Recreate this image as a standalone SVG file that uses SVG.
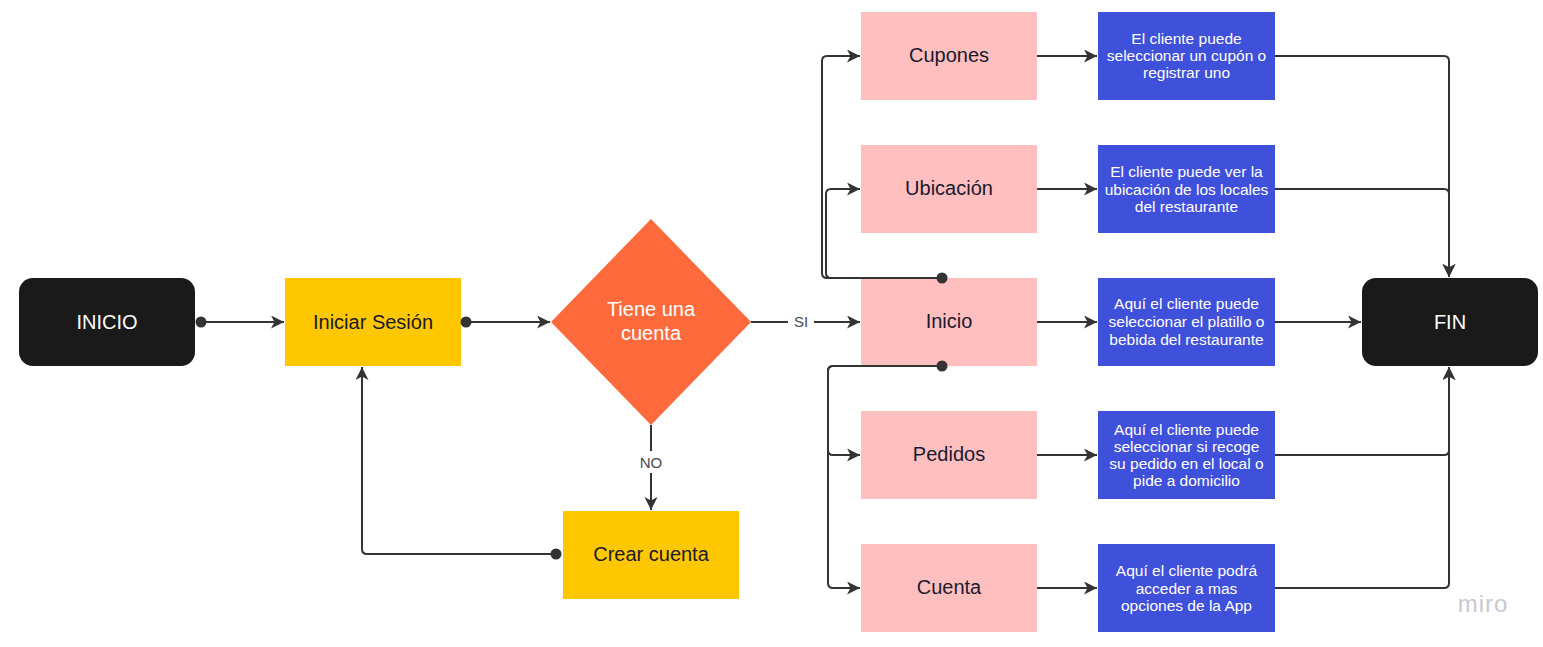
<svg xmlns="http://www.w3.org/2000/svg" width="1543" height="647" viewBox="0 0 1543 647">
  <defs>
    <marker id="arr" markerUnits="userSpaceOnUse" markerWidth="16" markerHeight="16" refX="13" refY="6.5" orient="auto">
      <path d="M0,0 L13,6.5 L0,13 L3.5,6.5 z" fill="#333333"/>
    </marker>
    <style>
      .term { fill: #1a1a1a; }
      .yel { fill: #ffc700; }
      .pink { fill: #ffbfbf; }
      .blue { fill: #3f50da; }
      .dia { fill: #ff6a3d; }
      .tw { font-family: "Liberation Sans", Arial, sans-serif; font-size: 20px; fill: #ffffff; text-anchor: middle; }
      .td { font-family: "Liberation Sans", Arial, sans-serif; font-size: 20px; fill: #1a1a2e; text-anchor: middle; }
      .tb { font-family: "Liberation Sans", Arial, sans-serif; font-size: 15.5px; fill: #ffffff; text-anchor: middle; }
      .lbl { font-family: "Liberation Sans", Arial, sans-serif; font-size: 15px; fill: #4a4a4a; text-anchor: middle; }
      .ln { fill: none; stroke: #333333; stroke-width: 2; }
      .dot { fill: #333333; }
    </style>
  </defs>
  <rect width="1543" height="647" fill="#ffffff"/>

  <g id="inicio">
    <rect class="term" x="19" y="278" width="176" height="88" rx="14"/>
    <text class="tw" x="107" y="329">INICIO</text>
  </g>
  <g id="iniciar-sesion">
    <rect class="yel" x="285" y="278" width="176" height="88"/>
    <text class="td" x="373" y="329">Iniciar Sesión</text>
  </g>
  <g id="tiene-cuenta">
    <polygon class="dia" points="651,219 751,322 651,425 551,322"/>
    <text class="tw" x="651" y="316">Tiene una</text>
    <text class="tw" x="651" y="340">cuenta</text>
  </g>
  <g id="crear-cuenta">
    <rect class="yel" x="563" y="511" width="176" height="88"/>
    <text class="td" x="651" y="561">Crear cuenta</text>
  </g>

  <g id="cupones">
    <rect class="pink" x="861" y="12" width="176" height="88"/>
    <text class="td" x="949" y="62">Cupones</text>
  </g>
  <g id="ubicacion">
    <rect class="pink" x="861" y="145" width="176" height="88"/>
    <text class="td" x="949" y="195">Ubicación</text>
  </g>
  <g id="inicio-menu">
    <rect class="pink" x="861" y="278" width="176" height="88"/>
    <text class="td" x="949" y="328">Inicio</text>
  </g>
  <g id="pedidos">
    <rect class="pink" x="861" y="411" width="176" height="88"/>
    <text class="td" x="949" y="461">Pedidos</text>
  </g>
  <g id="cuenta">
    <rect class="pink" x="861" y="544" width="176" height="88"/>
    <text class="td" x="949" y="594">Cuenta</text>
  </g>

  <g id="desc-cupones">
    <rect class="blue" x="1098" y="12" width="177" height="88"/>
    <text class="tb" x="1186.5" y="44">El cliente puede</text>
    <text class="tb" x="1186.5" y="61">seleccionar un cupón o</text>
    <text class="tb" x="1186.5" y="78">registrar uno</text>
  </g>
  <g id="desc-ubicacion">
    <rect class="blue" x="1098" y="145" width="177" height="88"/>
    <text class="tb" x="1186.5" y="177">El cliente puede ver la</text>
    <text class="tb" x="1186.5" y="194.5">ubicación de los locales</text>
    <text class="tb" x="1186.5" y="212">del restaurante</text>
  </g>
  <g id="desc-inicio">
    <rect class="blue" x="1098" y="278" width="177" height="88"/>
    <text class="tb" x="1186.5" y="309">Aquí el cliente puede</text>
    <text class="tb" x="1186.5" y="327">seleccionar el platillo o</text>
    <text class="tb" x="1186.5" y="344.5">bebida del restaurante</text>
  </g>
  <g id="desc-pedidos">
    <rect class="blue" x="1098" y="411" width="177" height="88"/>
    <text class="tb" x="1186.5" y="434.5">Aquí el cliente puede</text>
    <text class="tb" x="1186.5" y="451.5">seleccionar si recoge</text>
    <text class="tb" x="1186.5" y="468.5">su pedido en el local o</text>
    <text class="tb" x="1186.5" y="485.5">pide a domicilio</text>
  </g>
  <g id="desc-cuenta">
    <rect class="blue" x="1098" y="544" width="177" height="88"/>
    <text class="tb" x="1186.5" y="576">Aquí el cliente podrá</text>
    <text class="tb" x="1186.5" y="593.5">acceder a mas</text>
    <text class="tb" x="1186.5" y="611">opciones de la App</text>
  </g>

  <g id="fin">
    <rect class="term" x="1362" y="278" width="176" height="88" rx="14"/>
    <text class="tw" x="1450" y="329">FIN</text>
  </g>

  <g id="connectors">
    <path class="ln" d="M201,322 H284" marker-end="url(#arr)"/>
    <circle class="dot" cx="201" cy="322" r="5.5"/>
    <path class="ln" d="M466,322 H550" marker-end="url(#arr)"/>
    <circle class="dot" cx="466" cy="322" r="5.5"/>
    <path class="ln" d="M751,322 H788 M814,322 H860" marker-end="url(#arr)"/>
    <text class="lbl" x="801" y="327">SI</text>
    <path class="ln" d="M651,425 V451 M651,473 V510" marker-end="url(#arr)"/>
    <text class="lbl" x="651" y="467.5">NO</text>
    <path class="ln" d="M556,554 H367 Q362,554 362,549 V367" marker-end="url(#arr)"/>
    <circle class="dot" cx="556" cy="554" r="5.5"/>

    <path class="ln" d="M942,278 H827 Q822,278 822,273 V61 Q822,56 827,56 H860" marker-end="url(#arr)"/>
    <path class="ln" d="M942,278 H831 Q826,278 826,273 V194 Q826,189 831,189 H860" marker-end="url(#arr)"/>
    <circle class="dot" cx="942" cy="278" r="5.5"/>
    <path class="ln" d="M942,366 H833 Q828,366 828,371 V450 Q828,455 833,455 H860" marker-end="url(#arr)"/>
    <path class="ln" d="M942,366 H833 Q828,366 828,371 V583 Q828,588 833,588 H860" marker-end="url(#arr)"/>
    <circle class="dot" cx="942" cy="366" r="5.5"/>

    <path class="ln" d="M1037,56 H1097" marker-end="url(#arr)"/>
    <path class="ln" d="M1037,189 H1097" marker-end="url(#arr)"/>
    <path class="ln" d="M1037,322 H1097" marker-end="url(#arr)"/>
    <path class="ln" d="M1037,455 H1097" marker-end="url(#arr)"/>
    <path class="ln" d="M1037,588 H1097" marker-end="url(#arr)"/>

    <path class="ln" d="M1275,56 H1444 Q1449,56 1449,61 V277" marker-end="url(#arr)"/>
    <path class="ln" d="M1275,189 H1444 Q1449,189 1449,194 V277" marker-end="url(#arr)"/>
    <path class="ln" d="M1275,322 H1361" marker-end="url(#arr)"/>
    <path class="ln" d="M1275,455 H1444 Q1449,455 1449,450 V367" marker-end="url(#arr)"/>
    <path class="ln" d="M1275,588 H1444 Q1449,588 1449,583 V367" marker-end="url(#arr)"/>
  </g>

  <text x="1483" y="612" font-family="'Liberation Sans', Arial, sans-serif" font-size="24" letter-spacing="1" fill="#c8c8d2" text-anchor="middle">miro</text>
</svg>
